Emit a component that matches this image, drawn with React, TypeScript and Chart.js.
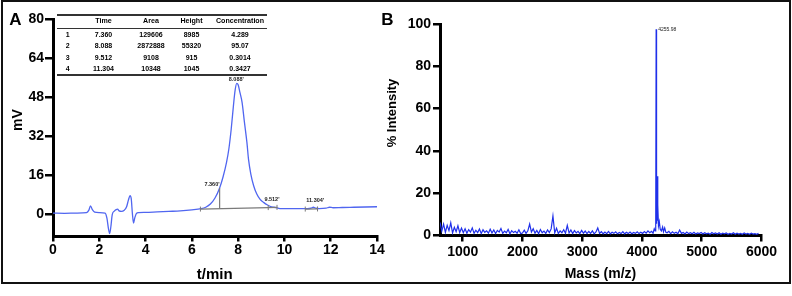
import React, { useEffect, useRef } from "react";
import { Chart, registerables } from "chart.js";

Chart.register(...registerables);

const FONT = "'Liberation Sans', Arial, Helvetica, sans-serif";

// ---------------- Panel A: HPLC chromatogram ----------------
const timeA = [
  0, 0.5, 1.0, 1.45, 1.55, 1.62, 1.7, 1.8, 2.0, 2.25, 2.33, 2.4, 2.45, 2.5, 2.56, 2.65, 2.73, 2.79,
  2.86, 2.95, 3.08, 3.18, 3.26, 3.33, 3.38, 3.43, 3.48, 3.53, 3.6, 3.7, 4.0, 4.5, 5.0, 5.5, 6.0,
  6.4, 6.6, 6.8, 7.0, 7.2, 7.35, 7.5, 7.6, 7.7, 7.8, 7.87, 7.94, 8.0, 8.08, 8.17, 8.27, 8.38, 8.45,
  8.55, 8.67, 8.8, 8.95, 9.1, 9.25, 9.4, 9.55, 9.7, 9.85, 10.0, 10.5, 11.0, 11.15, 11.25, 11.35,
  11.5, 11.8, 11.95, 12.1, 12.5, 13.0, 13.5, 14.0,
];
const mvA = [
  0.6, 0.5, 0.6, 0.8, 1.8, 3.6, 2.0, 1.0, 0.8, 0.6, -1.5, -6, -7.8, -5, 0, 1.4, 2.0, 2.2,
  1.5, 1.3, 1.8, 3.2, 6.0, 7.8, 6.5, 0.5, -3.5, -1.5, 0.4, 0.8, 0.9, 1.1, 1.3, 1.5, 1.9,
  2.4, 3.0, 4.3, 6.8, 10.9, 15.5, 21.5, 27, 35, 45, 51, 53.8, 53.2, 50, 46, 38, 29.5, 22.5,
  16.5, 11.8, 8.5, 6.2, 5.0, 4.0, 3.3, 3.0, 2.7, 2.4, 2.4, 2.4, 2.4, 2.6, 3.0, 2.6,
  2.4, 2.6, 3.0, 2.8, 2.9, 3.0, 3.1, 3.2,
];
const integBaseT = [6.37, 9.3, 9.68];
const integBaseV = [2.25, 2.85, 2.95];
const dropT = [7.2, 7.2];
const dropV = [2.5, 10.9];
const minorBaseT = [10.9, 11.43];
const minorBaseV = [2.25, 2.3];
const peakLabelsA = ["8.088'", "7.360'", "9.512'", "11.304'"];
const peakLabelT = [7.92, 6.87, 9.46, 11.33];
const peakLabelV = [55.5, 12.5, 6.35, 5.65];
const xTicksA = [0, 2, 4, 6, 8, 10, 12, 14];
const yTicksA = [0, 16, 32, 48, 64, 80];

// peak table
const tableHeader = ["", "Time", "Area", "Height", "Concentration"];
const peakNo = ["1", "2", "3", "4"];
const peakTime = ["7.360", "8.088", "9.512", "11.304"];
const peakArea = ["129606", "2872888", "9108", "10348"];
const peakHeight = ["8985", "55320", "915", "1045"];
const peakConc = ["4.289", "95.07", "0.3014", "0.3427"];

// ---------------- Panel B: mass spectrum ----------------
const massB = [
  620, 650, 680, 710, 740, 770, 800, 830, 860, 890, 920, 950, 980,
  1010, 1040, 1070, 1100, 1130, 1160, 1190, 1220, 1250, 1280, 1310, 1340, 1370, 1400, 1430, 1460,
  1490, 1520, 1550, 1580, 1610, 1640, 1670, 1700, 1730, 1760, 1790, 1820, 1850, 1880, 1910, 1940, 1970,
  2000, 2030, 2060, 2090, 2120, 2150, 2180, 2210, 2240, 2270, 2300, 2330, 2360, 2390, 2420, 2450, 2480,
  2510, 2540, 2570, 2600, 2630, 2660, 2690, 2720, 2750, 2780, 2810, 2840, 2870, 2900, 2930, 2960, 2990,
  3020, 3050, 3080, 3110, 3140, 3170, 3200, 3230, 3260, 3290, 3320, 3350, 3380, 3410, 3440, 3470, 3500,
  3530, 3560, 3590, 3620, 3650, 3680, 3710, 3740, 3770, 3800, 3830, 3860, 3890, 3920, 3950, 3980, 4010,
  4040, 4070, 4100, 4130,
  4160, 4185, 4205, 4220, 4230, 4237, 4244, 4252, 4260, 4268, 4276, 4290, 4305, 4325, 4345, 4360, 4380, 4400,
  4420, 4450, 4480, 4510, 4540, 4570, 4600, 4630, 4660, 4690, 4720, 4750, 4780, 4810, 4840, 4870, 4900,
  4930, 4960, 4990, 5020, 5050, 5080, 5110, 5140, 5170, 5200, 5230, 5260, 5290, 5320, 5350, 5380, 5410,
  5440, 5470, 5500, 5530, 5560, 5590, 5620, 5650, 5680, 5710, 5740, 5770, 5800, 5830, 5860, 5890, 5920, 5950,
];
const intensityB = [
  6.2, 2.1, 5.4, 1.5, 4.8, 2.3, 6.0, 1.2, 3.9, 1.8, 4.6, 1.4, 3.5,
  1.3, 3.2, 1.1, 2.8, 1.6, 3.6, 1.0, 2.5, 1.4, 3.1, 0.9, 2.7, 1.5, 2.2, 1.1, 3.0,
  1.2, 2.6, 0.9, 2.4, 1.6, 3.3, 1.0, 2.1, 1.3, 2.9, 0.8, 2.3, 1.4, 2.0, 1.1, 2.7, 0.9,
  1.2, 2.5, 1.0, 2.2, 5.4, 1.6, 3.2, 1.1, 2.4, 0.9, 2.8, 1.3, 2.1, 1.0, 2.6, 1.4, 3.1,
  9.2, 1.2, 3.4, 1.0, 2.2, 1.3, 2.7, 1.1, 4.8, 1.2, 2.6, 0.9, 2.3, 1.2, 2.0, 0.9, 2.4,
  1.1, 2.1, 0.9, 1.9, 1.0, 2.2, 0.8, 1.7, 3.6, 1.0, 1.8, 0.8, 1.6, 0.9, 1.9, 0.8, 1.5,
  1.0, 1.7, 0.8, 1.4, 0.9, 1.8, 0.8, 1.5, 0.9, 1.6, 0.8, 1.4, 1.0, 1.7, 0.9, 1.5, 1.0,
  1.9, 1.1, 2.2, 1.3,
  2.0, 1.1, 3.2, 2.2, 6.0, 97.5, 5.5, 28, 7, 14.5, 4.5, 6.5, 3.0, 2.2, 4.0, 1.8, 3.6, 1.5,
  1.3, 2.0, 0.9, 1.7, 1.0, 1.5, 0.8, 2.6, 1.0, 1.4, 0.7, 1.6, 0.9, 1.3, 0.8, 1.5, 0.7,
  1.2, 0.9, 1.4, 0.7, 1.3, 0.8, 1.1, 0.6, 1.4, 0.8, 1.2, 0.7, 1.3, 0.6, 1.1, 0.8, 1.2,
  0.6, 1.0, 0.7, 1.3, 0.6, 1.1, 0.7, 1.0, 0.6, 1.2, 0.7, 1.0, 0.6, 1.1, 0.7, 0.9, 0.6, 1.0,
];
const peakLabelsB = ["4255.98"];
const peakLabelMass = [4237];
const peakLabelInt = [97.5];
const xTicksB = [1000, 2000, 3000, 4000, 5000, 6000];
const yTicksB = [0, 20, 40, 60, 80, 100];

// ---------------- helpers ----------------
const pts = (xs: number[], ys: number[]) => xs.map((x, i) => ({ x, y: ys[i] }));

function axis(
  min: number,
  max: number,
  ticks: number[],
  fit: "w" | "h",
  size: number,
  tickLength: number,
  pad: number
): any {
  return {
    type: "linear",
    min,
    max,
    afterBuildTicks: (s: any) => {
      s.ticks = ticks.map((v) => ({ value: v }));
    },
    afterFit: (s: any) => {
      if (fit === "w") s.width = size;
      else s.height = size;
    },
    ticks: {
      color: "#000",
      font: { family: FONT, weight: "bold", size: 14 },
      padding: pad,
      autoSkip: false,
      maxRotation: 0,
      minRotation: 0,
      callback: (v: number) => String(v),
    },
    grid: {
      display: true,
      drawOnChartArea: false,
      drawTicks: true,
      tickLength,
      tickWidth: 2.5,
      tickColor: "#000",
      color: "#000",
      lineWidth: 2.5,
    },
    border: { display: true, color: "#000", width: 3 },
  };
}

function labelPlugin(id: string, texts: string[], xs: number[], ys: number[], font: string, align: CanvasTextAlign, dx: number) {
  return {
    id,
    afterDatasetsDraw(chart: any) {
      const { ctx, scales } = chart;
      ctx.save();
      ctx.font = font;
      ctx.fillStyle = "#222";
      ctx.textAlign = align;
      ctx.textBaseline = "middle";
      texts.forEach((t, i) => {
        ctx.fillText(t, scales.x.getPixelForValue(xs[i]) + dx, scales.y.getPixelForValue(ys[i]));
      });
      ctx.restore();
    },
  };
}

const Txt = ({ x, y, size, children, rotate = 0, weight = 700 }: any) => (
  <div
    style={{
      position: "absolute",
      left: x,
      top: y,
      transform: `translate(-50%, -50%) rotate(${rotate}deg)`,
      fontFamily: FONT,
      fontWeight: weight,
      fontSize: size,
      lineHeight: 1,
      whiteSpace: "nowrap",
      color: "#000",
    }}
  >
    {children}
  </div>
);

const HLine = ({ y }: { y: number }) => (
  <div style={{ position: "absolute", left: 57, top: y - 0.75, width: 210, height: 1.5, background: "#333" }} />
);

const colX = [67.7, 103.5, 151, 191.5, 240];
const rowY = [33.5, 45, 56.7, 68.3];

export default function App() {
  const refA = useRef<HTMLCanvasElement>(null);
  const refB = useRef<HTMLCanvasElement>(null);

  useEffect(() => {
    const grey = "#7a7a7a";
    const chartA = new Chart(refA.current as HTMLCanvasElement, {
      type: "scatter",
      data: {
        datasets: [
          {
            data: pts(integBaseT, integBaseV),
            showLine: true,
            borderColor: grey,
            borderWidth: 1.2,
            pointStyle: "line",
            rotation: 90,
            pointRadius: 2.5,
            pointBorderColor: grey,
            pointBorderWidth: 1,
          },
          {
            data: pts(minorBaseT, minorBaseV),
            showLine: true,
            borderColor: grey,
            borderWidth: 1.2,
            pointStyle: "line",
            rotation: 90,
            pointRadius: 2.5,
            pointBorderColor: grey,
            pointBorderWidth: 1,
          },
          {
            data: pts(dropT, dropV),
            showLine: true,
            borderColor: grey,
            borderWidth: 1.2,
            pointRadius: 0,
          },
          {
            data: pts(timeA, mvA),
            showLine: true,
            borderColor: "#5066f0",
            borderWidth: 1.3,
            pointRadius: 0,
            cubicInterpolationMode: "monotone",
          },
        ],
      } as any,
      options: {
        animation: false,
        responsive: false,
        maintainAspectRatio: false,
        devicePixelRatio: 1,
        layout: { padding: { left: 0, right: 19, top: 19.5, bottom: 29.5 } },
        plugins: { legend: { display: false }, tooltip: { enabled: false } },
        scales: {
          x: axis(0, 14, xTicksA, "h", 30, 5, 0),
          y: axis(-9, 80, yTicksA, "w", 53, 8, 1),
        },
      } as any,
      plugins: [labelPlugin("peakLabelsA", peakLabelsA, peakLabelT, peakLabelV, `bold 5.5px ${FONT}`, "center", 0)],
    });

    const chartB = new Chart(refB.current as HTMLCanvasElement, {
      type: "scatter",
      data: {
        datasets: [
          {
            data: pts(massB, intensityB),
            showLine: true,
            borderColor: "#1f30ea",
            borderWidth: 1.2,
            pointRadius: 0,
            tension: 0,
          },
        ],
      } as any,
      options: {
        animation: false,
        responsive: false,
        maintainAspectRatio: false,
        devicePixelRatio: 1,
        layout: { padding: { left: 0, right: 30.5, top: 24, bottom: 30.5 } },
        plugins: { legend: { display: false }, tooltip: { enabled: false } },
        scales: {
          x: axis(620, 6000, xTicksB, "h", 30, 6, 2),
          y: axis(0, 100, yTicksB, "w", 60, 7, 2),
        },
      } as any,
      plugins: [labelPlugin("peakLabelsB", peakLabelsB, peakLabelMass, peakLabelInt, `5px ${FONT}`, "left", 2)],
    });

    return () => {
      chartA.destroy();
      chartB.destroy();
    };
  }, []);

  return (
    <div style={{ position: "absolute", left: 0, top: 0, width: 792, height: 296, background: "#fff", overflow: "hidden" }}>
      <canvas ref={refA} width={396} height={296} style={{ position: "absolute", left: 0, top: 0 }} />
      <canvas ref={refB} width={412} height={296} style={{ position: "absolute", left: 380, top: 0 }} />

      {/* panel letters */}
      <Txt x={15.5} y={18.5} size={17}>A</Txt>
      <Txt x={387.5} y={18.5} size={17}>B</Txt>

      {/* axis titles */}
      <Txt x={17} y={120} size={14} rotate={-90}>mV</Txt>
      <Txt x={214.7} y={272.7} size={15}>t/min</Txt>
      <Txt x={391} y={113} size={13} rotate={-90}>% Intensity</Txt>
      <Txt x={600.5} y={272.7} size={14}>Mass (m/z)</Txt>

      {/* peak table */}
      <HLine y={15} />
      <HLine y={28.3} />
      <HLine y={75} />
      {tableHeader.map((h, i) => (
        <Txt key={"h" + i} x={colX[i]} y={22} size={7.1}>{h}</Txt>
      ))}
      {peakNo.map((n, r) => (
        <React.Fragment key={"r" + r}>
          <Txt x={colX[0]} y={rowY[r]} size={7}>{n}</Txt>
          <Txt x={colX[1]} y={rowY[r]} size={7}>{peakTime[r]}</Txt>
          <Txt x={colX[2]} y={rowY[r]} size={7}>{peakArea[r]}</Txt>
          <Txt x={colX[3]} y={rowY[r]} size={7}>{peakHeight[r]}</Txt>
          <Txt x={colX[4]} y={rowY[r]} size={7}>{peakConc[r]}</Txt>
        </React.Fragment>
      ))}

      {/* outer frame */}
      <div
        style={{
          position: "absolute",
          left: 1,
          top: 0,
          width: 790,
          height: 284,
          border: "2px solid #111",
          boxSizing: "border-box",
          pointerEvents: "none",
        }}
      />
    </div>
  );
}
